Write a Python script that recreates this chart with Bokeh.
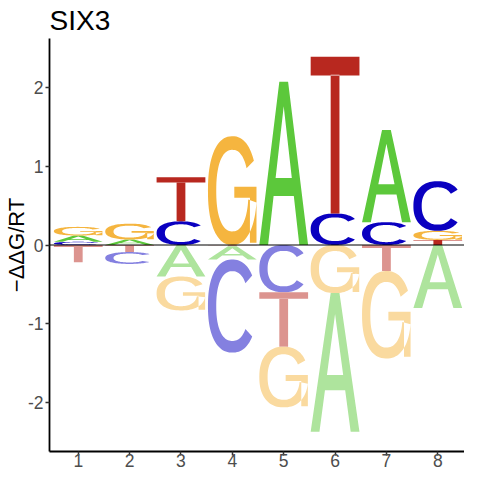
import numpy as np
from bokeh.plotting import figure
from bokeh.models import Span, FixedTicker, Range1d
from bokeh.embed import file_html
from bokeh.resources import INLINE

# ---- data: -ddG/RT per position and base ----
positions = [1, 2, 3, 4, 5, 6, 7, 8]
energy_A = [0.08, 0.07, -0.40, -0.17, 2.07, -1.76, 1.17, -0.80]
energy_C = [0.04, -0.15, 0.30, -1.18, -0.60, 0.40, 0.29, 0.63]
energy_G = [0.11, 0.20, -0.43, 1.38, -0.77, -0.61, -1.11, 0.115]
energy_T = [-0.22, -0.09, 0.56, -0.015, -0.69, 1.99, -0.33, 0.065]
bases = ["A", "C", "G", "T"]
x_ticks = [1, 2, 3, 4, 5, 6, 7, 8]
y_ticks = [-2, -1, 0, 1, 2]
y_tick_labels = ["-2", "-1", "0", "1", "2"]
title_text = "SIX3"
y_title = "\u2212\u0394\u0394G/RT"

X0, X1 = 0.44, 8.52
Y0, Y1 = -2.62, 2.62

energies = {"A": energy_A, "C": energy_C, "G": energy_G, "T": energy_T}
col_up = {"A": "#5CC83B", "C": "#0A00C0", "G": "#F5B53F", "T": "#B8281F"}


def blend(h, a=0.5):
    r, g, b = int(h[1:3], 16), int(h[3:5], 16), int(h[5:7], 16)
    f = lambda c: int(round(c * a + 255 * (1 - a)))
    return "#%02X%02X%02X" % (f(r), f(g), f(b))


col_dn = {k: blend(v) for k, v in col_up.items()}


# ---- letter outlines in a unit box ----
def arc(rx, ry, a0, a1, n=80, e=2.3):
    t = np.radians(np.linspace(a0, a1, n))
    c, s = np.cos(t), np.sin(t)
    cx = np.sign(c) * np.abs(c) ** (2.0 / e)
    sy = np.sign(s) * np.abs(s) ** (2.0 / e)
    return list(0.5 + rx * cx), list(0.5 + ry * sy)


def ring(a0, a1, tx=0.17, ty=0.125):
    ox, oy = arc(0.5, 0.5, a0, a1)
    ix, iy = arc(0.5 - tx, 0.5 - ty, a1, a0)
    return ox + ix, oy + iy


A_out = ([0, 0.18, 0.293, 0.707, 0.82, 1, 0.59, 0.41],
         [0, 0, 0.30, 0.30, 0, 0, 1, 1])
A_hole = ([0.334, 0.666, 0.5], [0.41, 0.41, 0.85])
C_ring = ring(38, 322)
G_ring = ring(30, 350)
G_bar = ([0.54, 0.86, 0.86, 0.995, 0.995, 0.54],
         [0.435, 0.435, 0.02, 0.02, 0.535, 0.535])
T_bar = ([0, 1, 1, 0], [0.88, 0.88, 1, 1])
T_stem = ([0.41, 0.59, 0.59, 0.41], [0, 0, 0.885, 0.885])

shapes = {
    "A": [[A_out, A_hole]],
    "C": [[C_ring]],
    "G": [[G_ring], [G_bar]],
    "T": [[T_bar], [T_stem]],
}

LW = 0.95
xs, ys, fills = [], [], []
for i, pos in enumerate(positions):
    vals = [(b, energies[b][i]) for b in bases]
    ups = sorted([v for v in vals if v[1] > 0], key=lambda t: t[1])
    dns = sorted([v for v in vals if v[1] < 0], key=lambda t: -t[1])
    stacks = []
    cum = 0.0
    for b, v in ups:
        stacks.append((b, cum, v, col_up[b]))
        cum += v
    cum = 0.0
    for b, v in dns:
        cum += -v
        stacks.append((b, -cum, -v, col_dn[b]))
    for b, y0, h, c in stacks:
        gx, gy = [], []
        for poly in shapes[b]:
            px, py = [], []
            for rx, ry in poly:
                px.append([pos - LW / 2 + LW * u for u in rx])
                py.append([y0 + h * w for w in ry])
            gx.append(px)
            gy.append(py)
        xs.append(gx)
        ys.append(gy)
        fills.append(c)

p = figure(width=464, height=472, output_backend="svg", toolbar_location=None,
           x_range=Range1d(X0, X1), y_range=Range1d(Y0, Y1),
           min_border_left=43, min_border_right=0, min_border_top=37,
           min_border_bottom=21)
p.multi_polygons(xs=xs, ys=ys, fill_color=fills, line_color=None)
p.add_layout(Span(location=0, dimension="width", line_color="black",
                  line_width=1, level="overlay"))

p.title.text = title_text
p.title.text_font = "Liberation Sans"
p.title.text_font_size = "28px"
p.title.text_font_style = "normal"
p.title.text_color = "black"
p.title.standoff = 5
p.title.offset = 0

p.grid.visible = False
p.outline_line_color = None
p.background_fill_color = "white"
p.border_fill_color = "white"

for ax in (p.xaxis[0], p.yaxis[0]):
    ax.axis_line_width = 1.8
    ax.axis_line_color = "black"
    ax.major_tick_line_color = "#333333"
    ax.major_tick_line_width = 1.5
    ax.major_tick_out = 4
    ax.major_tick_in = 0
    ax.minor_tick_line_color = None
    ax.major_label_text_font = "Liberation Sans"
    ax.major_label_text_font_size = "17.5px"
    ax.major_label_text_color = "#4D4D4D"
    ax.major_label_standoff = 2

p.xaxis.ticker = FixedTicker(ticks=x_ticks)
p.xaxis.major_label_standoff = -2
p.yaxis.ticker = FixedTicker(ticks=y_ticks)
p.yaxis.major_label_overrides = {t: s for t, s in zip(y_ticks, y_tick_labels)}
p.yaxis.axis_label = y_title
p.yaxis.axis_label_text_font = "Liberation Sans"
p.yaxis.axis_label_text_font_size = "22px"
p.yaxis.axis_label_text_font_style = "normal"
p.yaxis.axis_label_text_color = "black"
p.yaxis.axis_label_standoff = -4

open("out.html", "w").write(file_html(p, INLINE))
